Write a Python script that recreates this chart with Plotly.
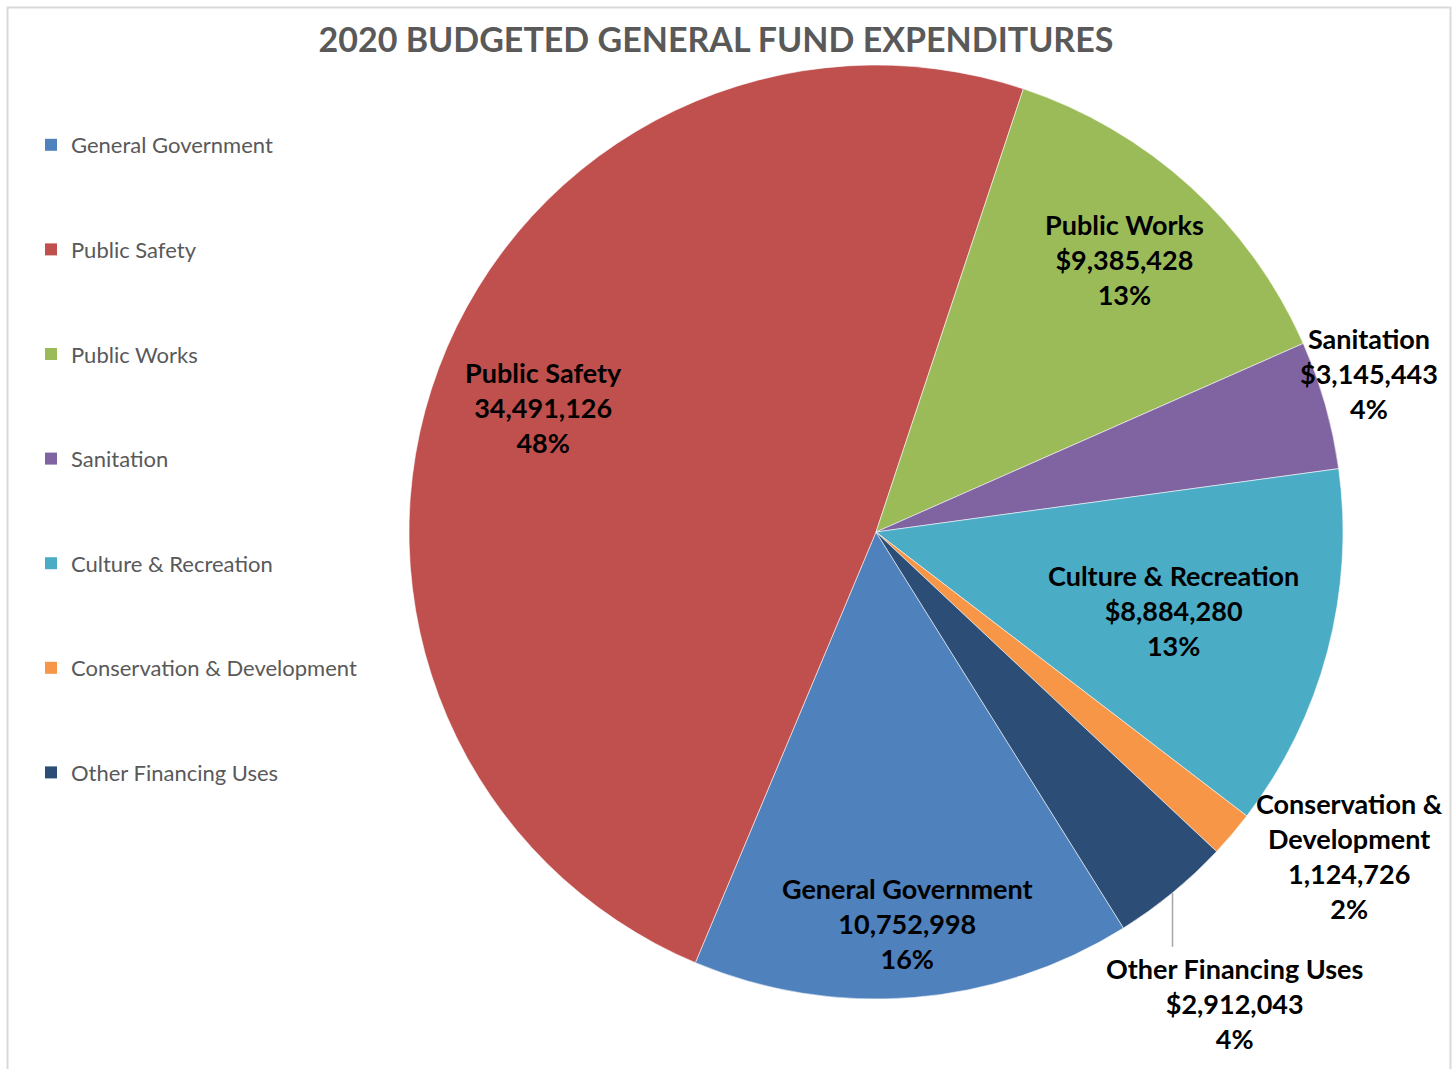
import math
import plotly.graph_objects as go

categories = ["General Government", "Public Safety", "Public Works", "Sanitation",
              "Culture & Recreation", "Conservation & Development", "Other Financing Uses"]
label_lines = ["General Government", "Public Safety", "Public Works", "Sanitation",
               "Culture & Recreation", "Conservation &<br>Development", "Other Financing Uses"]
amounts = [10752998, 34491126, 9385428, 3145443, 8884280, 1124726, 2912043]
dollar_prefix = ["", "", "$", "$", "$", "", "$"]
pct_labels = ["16%", "48%", "13%", "4%", "13%", "2%", "4%"]
colors = ["#4F81BD", "#C0504D", "#9BBB59", "#8064A2", "#4BACC6", "#F79646", "#2C4D75"]

# label placement styles: radial fraction of radius along slice mid-angle, plus pixel shift
label_radius = [0.84, 0.76, 0.79, 1.0, 0.66, 1.0, 1.0]
label_shift = [(0, 0), (0, 0), (0, 0), (44, -31), (0, 0), (117, 22), (62, 111)]
leader = [False, False, False, False, False, False, True]

W, H = 1455, 1069
cx, cy, r = 876, 532, 467
ROT = 148

def px(x):
    return x / W

def py(y):
    return 1 - y / H

fig = go.Figure()
fig.add_trace(go.Pie(
    labels=categories, values=amounts, textinfo="none",
    sort=False, direction="clockwise", rotation=ROT,
    marker=dict(colors=colors, line=dict(color="rgba(255,255,255,0.55)", width=1)),
    showlegend=False, hoverinfo="label+value+percent",
    domain=dict(x=[px(cx - r), px(cx + r)], y=[py(cy + r), py(cy - r)]),
))

for name, col in zip(categories, colors):
    fig.add_trace(go.Scatter(
        x=[None], y=[None], mode="markers", name=name, legendgroup=name,
        marker=dict(symbol="square", size=13, color=col), showlegend=True, hoverinfo="skip",
    ))

# data labels positioned from the slice angles computed from the values
total = sum(amounts)
annotations = []
shapes = []
cum = 0
for i, v in enumerate(amounts):
    mid = math.radians(ROT + 360 * (cum + v / 2) / total)
    cum += v
    k = label_radius[i]
    lx = cx + k * r * math.sin(mid) + label_shift[i][0]
    ly = cy - k * r * math.cos(mid) + label_shift[i][1]
    txt = f"<b>{label_lines[i]}<br>{dollar_prefix[i]}{amounts[i]:,}<br>{pct_labels[i]}</b>"
    annotations.append(dict(
        x=px(lx), y=py(ly), xref="paper", yref="paper", text=txt, showarrow=False,
        xanchor="center", yanchor="middle", align="center",
        font=dict(family="Lato", size=27, color="black"),
    ))
    if leader[i]:
        ex = cx + r * math.sin(mid)
        ey = cy - r * math.cos(mid)
        shapes.append(dict(type="line", xref="paper", yref="paper",
                           x0=px(ex), y0=py(ey), x1=px(ex), y1=py(ly - 57),
                           line=dict(color="#A6A6A6", width=1.5)))

shapes.append(dict(type="rect", xref="paper", yref="paper",
                   x0=px(7.5), x1=px(1450.5), y0=-0.05, y1=py(7.5),
                   line=dict(color="#D9D9D9", width=2), fillcolor="rgba(0,0,0,0)", layer="below"))

fig.update_layout(
    width=W, height=H,
    margin=dict(l=0, r=0, t=0, b=0),
    paper_bgcolor="white", plot_bgcolor="white",
    xaxis=dict(visible=False), yaxis=dict(visible=False),
    title=dict(text="<b>2020 BUDGETED GENERAL FUND EXPENDITURES</b>",
               font=dict(family="Lato", size=34, color="#595959"),
               x=px(716), xanchor="center", y=py(40), yanchor="middle"),
    legend=dict(x=px(31), xanchor="left", y=py(124), yanchor="top",
                font=dict(family="Lato", size=22, color="#595959"),
                tracegroupgap=73, itemsizing="constant", itemwidth=30,
                bgcolor="rgba(0,0,0,0)"),
    annotations=annotations,
    shapes=shapes,
)

fig.write_html("out.html", config={"displayModeBar": False},
               post_script="document.body.style.margin='0';")
